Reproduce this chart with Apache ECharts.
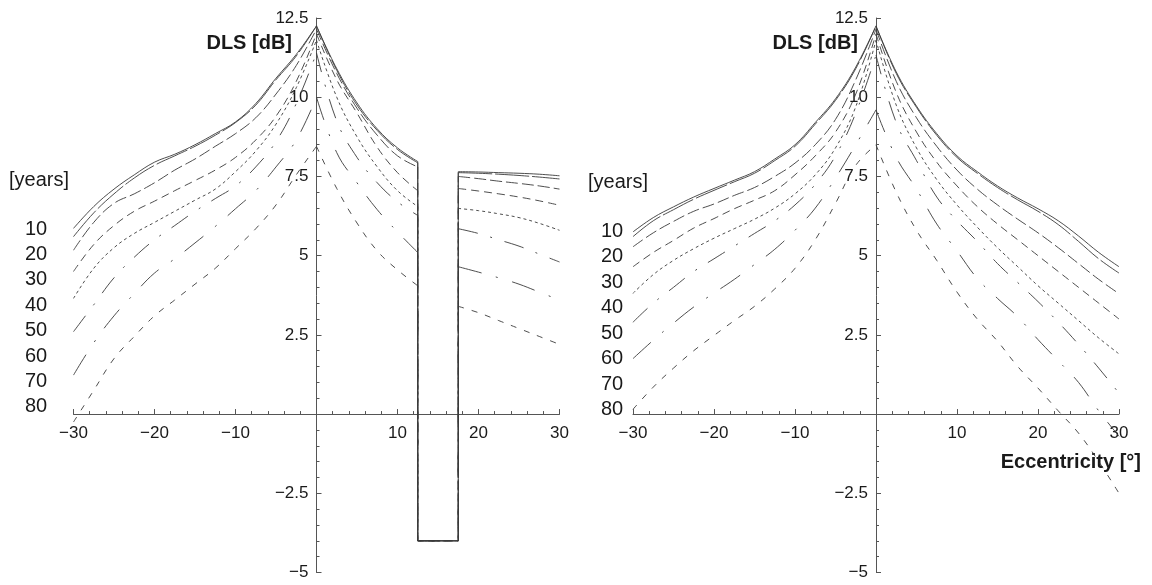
<!DOCTYPE html>
<html><head><meta charset="utf-8">
<script src="https://cdn.jsdelivr.net/npm/echarts@6/dist/echarts.min.js"></script>
<style>html,body{margin:0;padding:0;background:#fff}#c{width:1152px;height:585px}</style>
</head><body><div id="c"></div>
<script>
// ---- data ----
const years = [10, 20, 30, 40, 50, 60, 70, 80];
const xNeg = [-30, -27.5, -25, -22.5, -20, -17.5, -15, -12.5, -10, -7.5, -5, -2.5, 0];
const xPos = [0, 2.5, 5, 7.5, 10, 12.5, 15, 17.5, 20, 22.5, 25, 27.5, 30];
const xLeftA = [0, 2.5, 5, 7.5, 10, 12.5];
const xLeftB = [17.5, 20, 22.5, 25, 27.5, 30];
const blindStart = 12.5, blindEnd = 17.5, blindFloor = -4;

// left panel (with blind spot)
const leftNeg = [
  [5.86, 6.55, 7.1, 7.55, 7.95, 8.2, 8.5, 8.85, 9.22, 9.8, 10.6, 11.35, 12.25],
  [5.6, 6.35, 6.95, 7.45, 7.85, 8.15, 8.45, 8.8, 9.2, 9.75, 10.55, 11.3, 12.25],
  [5.17, 6.05, 6.65, 6.95, 7.3, 7.7, 8.05, 8.45, 8.85, 9.35, 10.1, 11.0, 12.15],
  [4.5, 5.35, 5.95, 6.4, 6.72, 7.05, 7.37, 7.7, 8.1, 8.65, 9.4, 10.5, 12.0],
  [3.65, 4.6, 5.25, 5.7, 6.05, 6.4, 6.75, 7.1, 7.65, 8.3, 9.15, 10.3, 11.8],
  [2.6, 3.45, 4.3, 4.95, 5.5, 5.95, 6.4, 6.8, 7.2, 7.8, 8.6, 9.8, 11.4],
  [1.23, 2.25, 3.1, 3.8, 4.45, 4.9, 5.4, 5.92, 6.48, 7.05, 7.8, 8.65, 10.0],
  [-0.25, 0.75, 1.75, 2.45, 3.1, 3.6, 4.1, 4.6, 5.22, 5.85, 6.6, 7.55, 8.45]
];
const leftA = [
  [12.25, 10.9, 9.82, 9.0, 8.4, 7.97],
  [12.25, 10.85, 9.75, 8.95, 8.35, 7.93],
  [12.15, 10.75, 9.65, 8.8, 8.15, 7.8],
  [12.0, 10.55, 9.5, 8.42, 7.62, 7.05],
  [11.8, 10.0, 8.75, 7.8, 7.05, 6.55],
  [11.4, 9.25, 8.1, 7.3, 6.7, 6.27],
  [10.0, 8.25, 7.3, 6.45, 5.75, 5.1],
  [8.45, 7.12, 6.03, 5.15, 4.55, 4.05]
];
const leftB = [
  [7.65, 7.64, 7.62, 7.6, 7.57, 7.52],
  [7.62, 7.6, 7.57, 7.53, 7.48, 7.42],
  [7.5, 7.43, 7.35, 7.28, 7.2, 7.1],
  [7.12, 7.04, 6.95, 6.85, 6.73, 6.59],
  [6.49, 6.42, 6.32, 6.2, 6.02, 5.8],
  [5.85, 5.7, 5.5, 5.3, 5.05, 4.8],
  [4.65, 4.48, 4.3, 4.1, 3.85, 3.6],
  [3.4, 3.2, 2.95, 2.7, 2.45, 2.2]
];
// right panel
const rightNeg = [
  [5.75, 6.2, 6.54, 6.85, 7.12, 7.38, 7.65, 8.05, 8.5, 9.2, 9.95, 10.95, 12.25],
  [5.6, 6.1, 6.45, 6.78, 7.06, 7.33, 7.6, 8.0, 8.45, 9.15, 9.9, 10.9, 12.25],
  [5.28, 5.72, 6.08, 6.4, 6.63, 6.9, 7.15, 7.5, 7.92, 8.5, 9.3, 10.55, 12.15],
  [4.65, 5.1, 5.48, 5.87, 6.17, 6.48, 6.75, 7.05, 7.55, 8.15, 8.9, 10.1, 12.0],
  [3.81, 4.4, 4.85, 5.22, 5.55, 5.85, 6.15, 6.5, 6.95, 7.55, 8.4, 9.7, 11.8],
  [2.9, 3.5, 4.0, 4.5, 4.9, 5.3, 5.7, 6.1, 6.6, 7.25, 8.15, 9.5, 11.33],
  [1.75, 2.33, 2.87, 3.38, 3.82, 4.25, 4.72, 5.2, 5.8, 6.5, 7.45, 8.5, 9.6],
  [0.15, 0.85, 1.45, 2.0, 2.48, 2.95, 3.4, 3.95, 4.6, 5.5, 6.65, 7.85, 8.5]
];
const rightPos = [
  [12.25, 10.8, 9.72, 8.85, 8.15, 7.65, 7.2, 6.82, 6.48, 6.1, 5.62, 5.1, 4.65],
  [12.25, 10.75, 9.68, 8.8, 8.1, 7.6, 7.15, 6.76, 6.4, 5.98, 5.45, 4.9, 4.45],
  [12.15, 10.5, 9.35, 8.45, 7.7, 7.1, 6.6, 6.15, 5.72, 5.25, 4.75, 4.25, 3.8],
  [12.0, 10.15, 8.9, 7.95, 7.2, 6.55, 6.0, 5.5, 5.0, 4.5, 4.0, 3.5, 3.0],
  [11.8, 9.75, 8.4, 7.4, 6.6, 5.9, 5.25, 4.65, 4.05, 3.5, 2.95, 2.4, 1.9],
  [11.33, 9.2, 8.0, 6.85, 6.1, 5.45, 4.75, 4.15, 3.55, 2.9, 2.2, 1.45, 0.66],
  [9.6, 8.1, 7.1, 6.0, 5.15, 4.28, 3.65, 3.07, 2.35, 1.68, 1.0, 0.1, -0.7],
  [8.5, 7.0, 5.8, 4.85, 3.85, 3.0, 2.3, 1.5, 0.82, 0.1, -0.6, -1.5, -2.5]
];

// ---- styles ----
const dashes = ['solid', [34, 3], [12, 4], [8, 5], [3, 3], [20, 13, 2, 13], [24, 15, 2, 15], [6, 8]];
const FONT = 'Liberation Sans, Arial, Helvetica, sans-serif';
const lineColor = '#3a3a3a';
const GRID_TOP = 18, GRID_H = 554.5, Y_MIN = -5, Y_MAX = 12.5;
const GRID_W = 486, X_MIN = -30, X_MAX = 30;
// offsets to place axes through the origin
const xOffset = -(GRID_H * (0 - Y_MIN) / (Y_MAX - Y_MIN));
const yOffset = -(GRID_W * (0 - X_MIN) / (X_MAX - X_MIN));

function fmt(v) {
  if (Math.abs(v) < 1e-9) return '';
  return v < 0 ? '\u2212' + Math.abs(v) : String(v);
}
function mkX(i) {
  return {
    type: 'value', gridIndex: i, min: X_MIN, max: X_MAX, interval: 10,
    position: 'bottom', offset: xOffset,
    axisLine: { onZero: false, lineStyle: { color: '#555', width: 1 } },
    axisTick: { inside: true, length: 5, lineStyle: { color: '#555' } },
    minorTick: { show: true, splitNumber: 5, length: 3, lineStyle: { color: '#555' } },
    splitLine: { show: false },
    axisLabel: { margin: 11, fontSize: 17, color: '#1a1a1a', fontFamily: FONT, formatter: fmt }
  };
}
function mkY(i) {
  return {
    type: 'value', gridIndex: i, min: Y_MIN, max: Y_MAX, interval: 2.5,
    position: 'left', offset: yOffset,
    axisLine: { onZero: false, lineStyle: { color: '#555', width: 1 } },
    axisTick: { inside: true, length: 5, lineStyle: { color: '#555' } },
    minorTick: { show: true, splitNumber: 5, length: 3, lineStyle: { color: '#555' } },
    splitLine: { show: false },
    axisLabel: { margin: 8, fontSize: 17, color: '#1a1a1a', fontFamily: FONT, formatter: fmt }
  };
}
function zip(xs, ys) { return xs.map((x, k) => [x, ys[k]]); }
function line(gi, data, k, smooth) {
  return {
    type: 'line', xAxisIndex: gi, yAxisIndex: gi, data: data,
    showSymbol: false, symbol: 'none', smooth: smooth ? 0.4 : false,
    animation: false, silent: true,
    lineStyle: { color: lineColor, width: 0.9, type: dashes[k] }
  };
}
const series = [];
years.forEach((y, k) => {
  series.push(line(0, zip(xNeg, leftNeg[k]), k, true));
  series.push(line(0, zip(xLeftA, leftA[k]), k, true));
  series.push(line(0, [[blindStart, leftA[k][leftA[k].length - 1]], [blindStart, blindFloor],
    [blindEnd, blindFloor], [blindEnd, leftB[k][0]]], k, false));
  series.push(line(0, zip(xLeftB, leftB[k]), k, true));
  series.push(line(1, zip(xNeg, rightNeg[k]), k, true));
  series.push(line(1, zip(xPos, rightPos[k]), k, true));
});

const graphics = [];
function txt(x, y, text, opts) {
  graphics.push({ type: 'text', x: x, y: y, silent: true,
    style: Object.assign({ text: text, fill: '#1a1a1a', font: '20px ' + FONT,
      textAlign: 'left', textVerticalAlign: 'middle' }, opts || {}) });
}
txt(292, 43, 'DLS [dB]', { font: 'bold 20px ' + FONT, textAlign: 'right' });
txt(858, 43, 'DLS [dB]', { font: 'bold 20px ' + FONT, textAlign: 'right' });
txt(1141, 462, 'Eccentricity [°]', { font: 'bold 20px ' + FONT, textAlign: 'right' });
txt(9, 180, '[years]');
txt(588, 182, '[years]');
years.forEach((y, k) => {
  txt(36, 229 + k * 25.4, String(y), { textAlign: 'center' });
  txt(612, 231 + k * 25.5, String(y), { textAlign: 'center' });
});

const chart = echarts.init(document.getElementById('c'), null, { renderer: 'canvas' });
chart.setOption({
  backgroundColor: '#fff',
  animation: false,
  grid: [
    { left: 73.5, width: GRID_W, top: GRID_TOP, height: GRID_H, containLabel: false, outerBoundsMode: 'none' },
    { left: 633, width: GRID_W, top: GRID_TOP, height: GRID_H, containLabel: false, outerBoundsMode: 'none' }
  ],
  xAxis: [mkX(0), mkX(1)],
  yAxis: [mkY(0), mkY(1)],
  series: series,
  graphic: graphics
});
</script></body></html>
